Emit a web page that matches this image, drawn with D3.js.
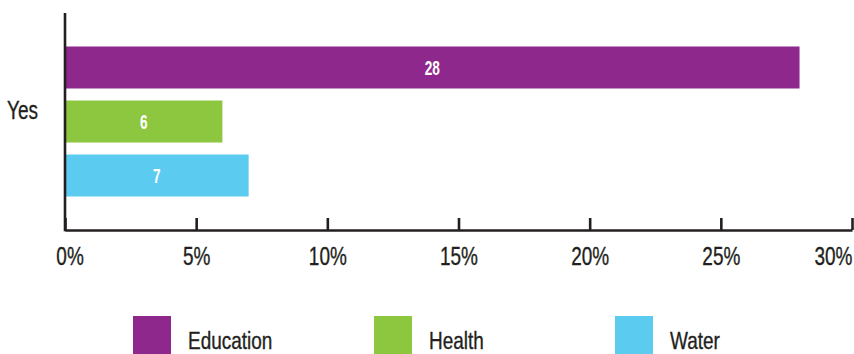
<!DOCTYPE html>
<html>
<head>
<meta charset="utf-8">
<script src="https://cdn.jsdelivr.net/npm/d3@7"></script>
<style>
  html, body { margin: 0; padding: 0; background: #ffffff; }
  svg { display: block; }
  text { font-family: "Liberation Sans", "Arial", sans-serif; fill: #231f20; }
  .dark { stroke: #231f20; stroke-width: 0.35px; }
</style>
</head>
<body>
<svg id="chart" width="854" height="354"></svg>
<script>
// Survey answer shown on the vertical axis
const groups = ["Yes"];
// Sectors, one bar each
const sectors = ["Education", "Health", "Water"];
// Share of respondents, in percent
const values = [28, 6, 7];
const sectorColors = ["#8e288d", "#8dc63f", "#5bcbf0"];
// Horizontal axis ticks
const tickValues = [0, 5, 10, 15, 20, 25, 30];

const svg = d3.select("#chart");
const ink = "#231f20";
const plotLeft = 65, plotRight = 852, plotTop = 13, plotBottom = 230;
// Horizontal squeeze giving the condensed lettering
const squeeze = 0.76;

const x = d3.scaleLinear().domain([0, 30]).range([plotLeft, plotRight]);
const y0 = d3.scaleBand().domain(groups).range([plotTop, plotBottom])
  .paddingInner(0).paddingOuter((217 / 150 - 1) / 2);
const y1 = d3.scaleBand().domain(sectors).range([0, y0.bandwidth()])
  .paddingInner(12 / 54).paddingOuter(0);
const color = d3.scaleOrdinal().domain(sectors).range(sectorColors);

// Bars
const rows = sectors.map((s, i) => ({ sector: s, value: values[i] }));
const g = svg.append("g").attr("transform", `translate(0,${y0("Yes")})`);
g.selectAll("rect").data(rows).join("rect")
  .attr("x", x(0))
  .attr("y", d => y1(d.sector))
  .attr("width", d => x(d.value) - x(0))
  .attr("height", y1.bandwidth())
  .attr("fill", d => color(d.sector));

// Value labels inside the bars
g.selectAll("text.val").data(rows).join("text")
  .attr("class", "val")
  .attr("transform", d =>
    `translate(${(x(0) + x(d.value)) / 2},${y1(d.sector) + y1.bandwidth() / 2}) scale(0.7,1)`)
  .attr("dy", "0.36em")
  .attr("text-anchor", "middle")
  .style("fill", "#ffffff")
  .style("font-weight", "bold")
  .style("font-size", "19.5px")
  .text(d => d.value);

// Bottom axis with inward ticks
const xAxis = d3.axisBottom(x).tickValues(tickValues)
  .tickFormat(d => d + "%").tickSize(-12).tickSizeOuter(0).tickPadding(17);
const ax = svg.append("g").attr("transform", `translate(0,${plotBottom})`).call(xAxis);
ax.select(".domain").attr("stroke", ink).attr("stroke-width", 2.6);
ax.selectAll(".tick line").attr("stroke", ink).attr("stroke-width", 2.6);
ax.selectAll(".tick text")
  .attr("class", "dark")
  .attr("font-family", null).attr("font-size", null)
  .style("font-size", "25px").style("fill", ink)
  .attr("dy", "0.71em")
  .attr("transform", `scale(${squeeze},1)`)
  .attr("text-anchor", (d, i, n) => i === n.length - 1 ? "end" : "middle")
  .attr("dx", (d, i) => i === 0 ? 6 : 0);

// Vertical axis line and category label
svg.append("line")
  .attr("x1", plotLeft).attr("x2", plotLeft)
  .attr("y1", plotTop).attr("y2", plotBottom + 1.3)
  .attr("stroke", ink).attr("stroke-width", 2.6);
svg.selectAll("text.cat").data(groups).join("text")
  .attr("class", "cat dark")
  .attr("transform", d => `translate(38,${y0(d) + y0.bandwidth() / 2 - 2.5}) scale(${squeeze},1)`)
  .attr("text-anchor", "end")
  .style("font-size", "25px")
  .text(d => d);

// Legend
const legend = svg.append("g").selectAll("g").data(sectors).join("g")
  .attr("transform", (d, i) => `translate(${133 + i * 241},316)`);
legend.append("rect").attr("width", 38).attr("height", 38).attr("fill", d => color(d));
legend.append("text")
  .attr("class", "dark")
  .attr("transform", `translate(55,32.5) scale(0.79,1)`)
  .style("font-size", "24px").text(d => d);
</script>
</body>
</html>
